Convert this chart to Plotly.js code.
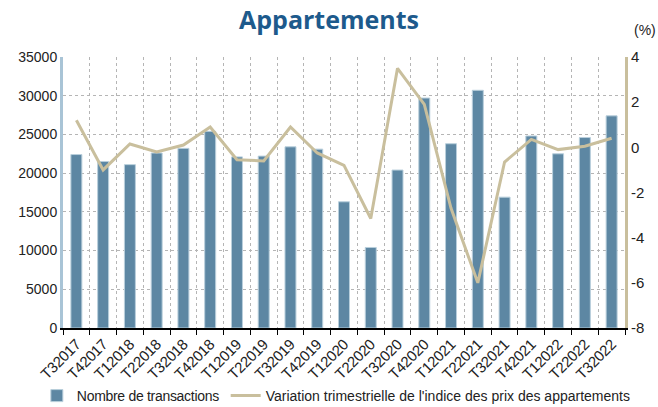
<!DOCTYPE html>
<html><head><meta charset="utf-8">
<script src="https://cdn.plot.ly/plotly-3.0.1.min.js"></script>
<style>html,body{margin:0;padding:0;background:#fff}#chart{width:658px;height:407px}
.legendtext{letter-spacing:-0.3px}
.xtick text{letter-spacing:-0.3px}
</style>
</head><body><div id="chart"></div>
<script>
const quarters = ["T32017","T42017","T12018","T22018","T32018","T42018","T12019","T22019","T32019","T42019","T12020","T22020","T32020","T42020","T12021","T22021","T32021","T42021","T12022","T22022","T32022"];
const transactions = [22400,21500,21100,22600,23200,25400,22100,22200,23400,23100,16300,10400,20400,29700,23800,30700,16900,24800,22500,24600,27400];
const priceVariation = [1.2,-1.0,0.15,-0.2,0.1,0.9,-0.55,-0.6,0.9,-0.25,-0.8,-3.15,3.5,1.9,-2.7,-6.0,-0.65,0.35,-0.1,0.05,0.4];
const yLeftTicks = [0,5000,10000,15000,20000,25000,30000,35000];
const yRightTicks = [-8,-6,-4,-2,0,2,4];

const FONT = "Liberation Sans, Arial, sans-serif";
const data = [
  {type:"bar", x:quarters, y:transactions, name:"Nombre de transactions",
   marker:{color:"#5d87a3", line:{color:"#b9cfdc", width:1}}, yaxis:"y", legend:"legend"},
  {type:"scatter", mode:"lines", x:quarters, y:priceVariation,
   name:"Variation trimestrielle de l'indice des prix des appartements",
   line:{color:"#c9bf9d", width:3}, yaxis:"y2", legend:"legend2"}
];
const legendBase = {orientation:"h", xref:"container", xanchor:"left", y:0.027, yanchor:"middle", yref:"container",
  bgcolor:"rgba(0,0,0,0)", font:{family:FONT, size:14, color:"#222"}, itemwidth:30};
const layout = {
  width:658, height:407,
  margin:{l:63, r:33, t:57, b:79},
  paper_bgcolor:"#fff", plot_bgcolor:"#fff",
  font:{family:FONT, size:14, color:"#222"},
  title:{text:"<b>Appartements</b>", font:{family:"Open Sans, sans-serif", size:25, color:"#1d5a8c"},
         x:0.5, xanchor:"center", y:0.95, yanchor:"middle"},
  bargap:0.59,
  showlegend:true,
  legend:Object.assign({}, legendBase, {x:0.056}),
  legend2:Object.assign({}, legendBase, {x:0.343}),
  xaxis:{type:"category", tickangle:-45, tickson:"boundaries", ticks:"outside", ticklen:5, tickcolor:"#000",
         showline:true, linecolor:"#000", linewidth:1.5, showgrid:true, gridcolor:"#b5b5b5", griddash:"dot",
         tickfont:{family:FONT, size:15, color:"#222"}},
  yaxis:{range:[0,35000], tickvals:yLeftTicks, ticktext:yLeftTicks.map(String), showgrid:true, gridcolor:"#b5b5b5", griddash:"dot",
         showline:true, linecolor:"#a9c4d6", linewidth:3, ticks:"", zeroline:false,
         tickfont:{family:FONT, size:14, color:"#222"}},
  yaxis2:{range:[-8,4], tickvals:yRightTicks, ticktext:yRightTicks.map(String), overlaying:"y", side:"right", showgrid:false,
          showline:true, linecolor:"#c9bf9d", linewidth:3, ticks:"", zeroline:false,
          tickfont:{family:FONT, size:15, color:"#222"}},
  annotations:[{text:"(%)", xref:"paper", yref:"paper", x:1.012, y:1.1, xanchor:"left", yanchor:"middle",
                showarrow:false, font:{family:FONT, size:14, color:"#222"}}]
};
Plotly.newPlot("chart", data, layout, {displayModeBar:false});
</script></body></html>
